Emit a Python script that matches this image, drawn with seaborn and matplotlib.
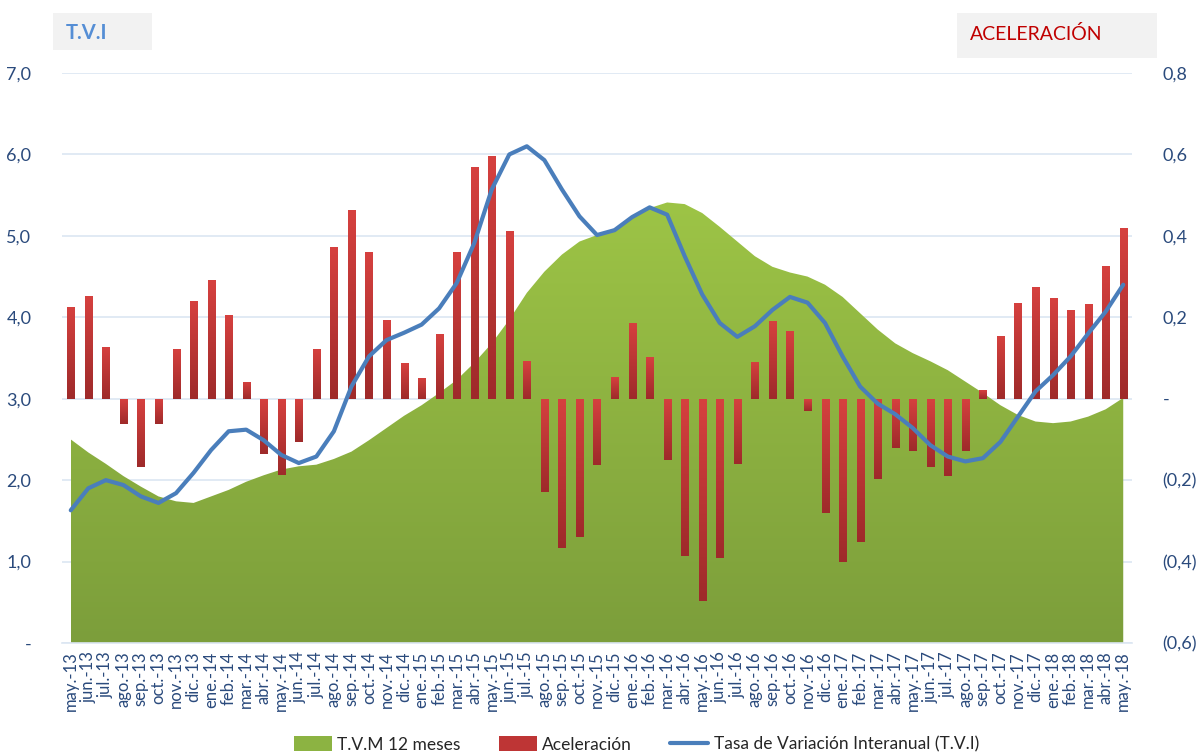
import numpy as np
import pandas as pd
import matplotlib
matplotlib.use('Agg')
import matplotlib.pyplot as plt
import seaborn as sns
from matplotlib.patches import Patch, Rectangle
from matplotlib.lines import Line2D
from matplotlib.colors import LinearSegmentedColormap

# ---------------- data ----------------
months = ['may.-13', 'jun.-13', 'jul.-13', 'ago.-13', 'sep.-13', 'oct.-13', 'nov.-13', 'dic.-13',
          'ene.-14', 'feb.-14', 'mar.-14', 'abr.-14', 'may.-14', 'jun.-14', 'jul.-14', 'ago.-14',
          'sep.-14', 'oct.-14', 'nov.-14', 'dic.-14', 'ene.-15', 'feb.-15', 'mar.-15', 'abr.-15',
          'may.-15', 'jun.-15', 'jul.-15', 'ago.-15', 'sep.-15', 'oct.-15', 'nov.-15', 'dic.-15',
          'ene.-16', 'feb.-16', 'mar.-16', 'abr.-16', 'may.-16', 'jun.-16', 'jul.-16', 'ago.-16',
          'sep.-16', 'oct.-16', 'nov.-16', 'dic.-16', 'ene.-17', 'feb.-17', 'mar.-17', 'abr.-17',
          'may.-17', 'jun.-17', 'jul.-17', 'ago.-17', 'sep.-17', 'oct.-17', 'nov.-17', 'dic.-17',
          'ene.-18', 'feb.-18', 'mar.-18', 'abr.-18', 'may.-18']

# T.V.M 12 meses (left axis)
tvm = [2.50, 2.34, 2.20, 2.05, 1.92, 1.80, 1.74, 1.72, 1.80, 1.88, 1.98, 2.06, 2.13, 2.17, 2.19, 2.26,
       2.35, 2.49, 2.64, 2.79, 2.92, 3.07, 3.23, 3.44, 3.68, 3.97, 4.30, 4.56, 4.77, 4.93, 5.01, 5.09,
       5.22, 5.34, 5.41, 5.39, 5.28, 5.11, 4.93, 4.75, 4.62, 4.55, 4.50, 4.40, 4.25, 4.05, 3.85, 3.68,
       3.56, 3.46, 3.35, 3.21, 3.07, 2.92, 2.80, 2.72, 2.70, 2.72, 2.78, 2.87, 3.01]

# Aceleración (right axis)
accel = [0.226, 0.253, 0.128, -0.061, -0.167, -0.061, 0.123, 0.241, 0.292, 0.206, 0.042, -0.135,
         -0.187, -0.106, 0.123, 0.373, 0.464, 0.361, 0.194, 0.088, 0.052, 0.160, 0.361, 0.570,
         0.597, 0.413, 0.093, -0.229, -0.366, -0.339, -0.162, 0.054, 0.187, 0.103, -0.150, -0.386,
         -0.496, -0.391, -0.160, 0.091, 0.192, 0.167, -0.029, -0.280, -0.400, -0.351, -0.197, -0.120,
         -0.128, -0.167, -0.189, -0.128, 0.022, 0.155, 0.236, 0.275, 0.248, 0.219, 0.233, 0.327, 0.420]

# Tasa de Variación Interanual (left axis)
tvi = [1.63, 1.90, 2.00, 1.94, 1.80, 1.72, 1.84, 2.09, 2.37, 2.60, 2.62, 2.49, 2.31, 2.21, 2.29, 2.60,
       3.15, 3.52, 3.72, 3.81, 3.91, 4.11, 4.42, 4.91, 5.57, 6.00, 6.10, 5.93, 5.57, 5.24, 5.01, 5.07,
       5.23, 5.35, 5.26, 4.75, 4.28, 3.93, 3.76, 3.89, 4.09, 4.25, 4.18, 3.93, 3.52, 3.15, 2.94, 2.81,
       2.64, 2.43, 2.29, 2.23, 2.27, 2.47, 2.78, 3.09, 3.29, 3.52, 3.80, 4.07, 4.40]

left_ticks = [0, 1, 2, 3, 4, 5, 6, 7]
left_labels = ['-', '1,0', '2,0', '3,0', '4,0', '5,0', '6,0', '7,0']
right_ticks = [-0.6, -0.4, -0.2, 0.0, 0.2, 0.4, 0.6, 0.8]
right_labels = ['(0,6)', '(0,4)', '(0,2)', '-', '0,2', '0,4', '0,6', '0,8']

legend_labels = ['T.V.M 12 meses', 'Aceleración', 'Tasa de Variación Interanual (T.V.I)']

# ---------------- style ----------------
sns.set_theme(style='white')
plt.rcParams['font.family'] = ['Lato', 'DejaVu Sans']

TICK_COLOR = '#2a4a7c'
GRID_COLOR = '#dce6f2'
GREEN_TOP, GREEN_BOT = '#9dc446', '#7c9e3b'
RED_TOP, RED_BOT = '#d6413f', '#9e2a2a'
BLUE = '#4a7ebb'

df = pd.DataFrame({'pos': np.arange(len(months)), 'mes': months,
                   'tvm': tvm, 'accel': accel, 'tvi': tvi})

fig = plt.figure(figsize=(11.96, 7.55), dpi=100)
ax = fig.add_axes([62 / 1196, 1 - 643 / 755, (1132 - 62) / 1196, (643 - 73) / 755])
ax2 = ax.twinx()
ax3 = ax.twinx()

xlim = (-0.5, len(months) - 0.5)

# --- green area with vertical gradient (left axis)
poly = ax.fill_between(df['pos'], df['tvm'], 0, color=GREEN_TOP, lw=0, zorder=2)
poly.set_facecolor('none')
gcmap = LinearSegmentedColormap.from_list('g', [GREEN_BOT, GREEN_TOP])
grad = np.linspace(0, 1, 256).reshape(-1, 1)
im = ax.imshow(grad, extent=[0, len(months) - 1, 0, max(tvm)], origin='lower',
               aspect='auto', cmap=gcmap, zorder=2)
im.set_clip_path(poly.get_paths()[0], transform=ax.transData)
ax.set_xlim(*xlim)
ax.set_ylim(0, 7)

# --- bars (right axis)
sns.barplot(data=df, x='pos', y='accel', native_scale=True, width=0.4,
            color=RED_TOP, ax=ax2, zorder=3, linewidth=0)
rcmap = LinearSegmentedColormap.from_list('r', [RED_BOT, RED_TOP])
for p in list(ax2.patches):
    x0, y0 = p.get_x(), p.get_y()
    w, h = p.get_width(), p.get_height()
    lo, hi = min(y0, y0 + h), max(y0, y0 + h)
    if hi - lo <= 0:
        continue
    bim = ax2.imshow(grad, extent=[x0, x0 + w, lo, hi], origin='lower', aspect='auto',
                     cmap=rcmap, zorder=3)
    bim.set_clip_path(p)
    p.set_facecolor('none')
ax2.set_xlim(*xlim)
ax2.set_ylim(-0.6, 0.8)
ax2.set_yticks(right_ticks, right_labels)
ax2.set_ylabel('')
ax2.set_xlabel('')

# --- line (left axis scale, drawn on top)
sns.lineplot(data=df, x='pos', y='tvi', ax=ax3, color=BLUE, lw=3.0, zorder=4)
ax3.set_xlim(*xlim)
ax3.set_ylim(0, 7)
ax3.set_yticks([])
ax3.set_ylabel('')
ax3.set_xlabel('')

# --- axes formatting
ax.set_yticks(left_ticks, left_labels)
ax.yaxis.grid(True, color=GRID_COLOR, lw=1.2)
ax.set_axisbelow(True)
ax.set_xticks(df['pos'], months, rotation=90)
ax.set_xticks(np.arange(-0.5, len(months)), minor=True)
ax.tick_params(axis='x', which='major', length=0, pad=6, labelsize=12, colors=TICK_COLOR)
ax.tick_params(axis='x', which='minor', length=9, width=1, color=GRID_COLOR, direction='out')
ax.tick_params(axis='y', length=0, pad=22, labelsize=13, colors=TICK_COLOR)
ax2.tick_params(axis='y', length=0, pad=22, labelsize=13, colors=TICK_COLOR)
ax.set_xlabel('')
ax.set_ylabel('')
for a in (ax, ax2, ax3):
    for s in a.spines.values():
        s.set_visible(False)
ax.spines['bottom'].set_visible(True)
ax.spines['bottom'].set_color(GRID_COLOR)
ax.spines['bottom'].set_linewidth(1.2)

# --- header boxes
fig.patches.append(Rectangle((53 / 1196, 1 - 50 / 755), 99 / 1196, 37 / 755,
                             transform=fig.transFigure, facecolor='#f2f2f2', edgecolor='none'))
fig.text(66 / 1196, 1 - 33 / 755, 'T.V.I', fontsize=14.5, fontweight='bold',
         color='#558ed5', va='center', ha='left')
fig.patches.append(Rectangle((957 / 1196, 1 - 58 / 755), 200 / 1196, 45 / 755,
                             transform=fig.transFigure, facecolor='#f2f2f2', edgecolor='none'))
fig.text(970 / 1196, 1 - 34 / 755, 'ACELERACIÓN', fontsize=14, color='#c00000',
         va='center', ha='left')

# --- legend
handles = [Patch(facecolor='#8cb342', edgecolor='none'),
           Patch(facecolor='#be3535', edgecolor='none'),
           Line2D([0], [0], color=BLUE, lw=3.0)]
fig.legend(handles, legend_labels, loc='center', bbox_to_anchor=(0.532, 0.014), ncol=3,
           frameon=False, fontsize=12.5, handlelength=2.2, handleheight=0.9,
           columnspacing=2.2, handletextpad=0.3, labelcolor='#262626')

fig.savefig('out.png', dpi=100)
